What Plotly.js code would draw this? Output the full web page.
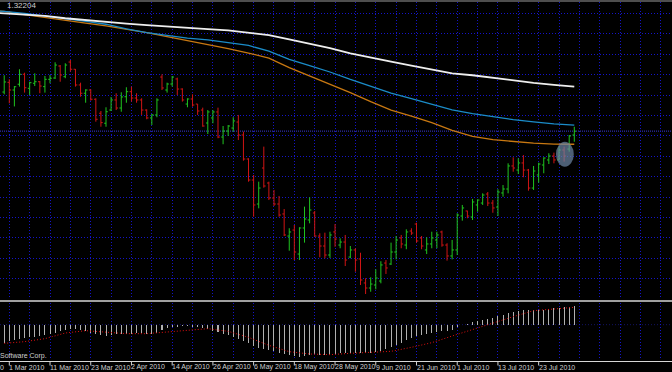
<!DOCTYPE html>
<html>
<head>
<meta charset="utf-8">
<script src="https://cdn.plot.ly/plotly-3.0.1.min.js"></script>
<style>html,body{margin:0;padding:0;background:#000;}#chart{width:672px;height:372px;}</style>
</head>
<body>
<div id="chart"></div>
<script>
// ---- price bars (EURUSD daily), first bar = 26 Feb 2010 (index -1) ----
const open = [1.3546,1.3627,1.3563,1.3611,1.3694,1.3577,1.3619,1.3632,1.3591,1.3652,1.3663,1.3763,1.3674,1.3796,1.3736,1.3605,1.3536,1.3563,1.3486,1.3369,1.3286,1.3396,1.3480,1.3413,1.3507,1.3549,1.3496,1.3480,1.3396,1.3330,1.3355,1.3671,1.3563,1.3613,1.3655,1.3571,1.3446,1.3488,1.3446,1.3396,1.3288,1.3330,1.3380,1.3171,1.3221,1.3246,1.3296,1.3188,1.2988,1.2813,1.2613,1.2913,1.2788,1.2663,1.2613,1.2530,1.2346,1.2396,1.2196,1.2413,1.2480,1.2538,1.2346,1.2263,1.2188,1.2380,1.2271,1.2296,1.2171,1.2230,1.2155,1.1955,1.1913,1.1938,1.1971,1.2121,1.2113,1.2213,1.2330,1.2271,1.2388,1.2446,1.2330,1.2230,1.2280,1.2313,1.2380,1.2271,1.2180,1.2230,1.2513,1.2555,1.2505,1.2605,1.2621,1.2696,1.2621,1.2588,1.2705,1.2738,1.2930,1.2896,1.2955,1.2896,1.2746,1.2855,1.2938,1.2980,1.3013,1.2980,1.3063,1.3071,1.3188];
const high = [1.3686,1.3652,1.3596,1.3736,1.3707,1.3632,1.3702,1.3638,1.3680,1.3688,1.3794,1.3771,1.3786,1.3813,1.3738,1.3624,1.3569,1.3569,1.3494,1.3388,1.3419,1.3505,1.3536,1.3544,1.3586,1.3591,1.3536,1.3494,1.3402,1.3363,1.3494,1.3694,1.3624,1.3680,1.3666,1.3577,1.3494,1.3527,1.3446,1.3416,1.3396,1.3396,1.3416,1.3263,1.3271,1.3336,1.3355,1.3216,1.2994,1.2855,1.2799,1.3091,1.2799,1.2730,1.2680,1.2571,1.2411,1.2438,1.2419,1.2591,1.2669,1.2555,1.2369,1.2374,1.2382,1.2446,1.2327,1.2355,1.2263,1.2244,1.2207,1.1994,1.2002,1.2069,1.2136,1.2146,1.2291,1.2346,1.2355,1.2402,1.2411,1.2457,1.2346,1.2336,1.2382,1.2382,1.2391,1.2286,1.2313,1.2536,1.2605,1.2557,1.2655,1.2652,1.2702,1.2713,1.2646,1.2736,1.2771,1.2952,1.3002,1.2994,1.3021,1.2905,1.2930,1.2957,1.3002,1.3036,1.3041,1.3091,1.3091,1.3188,1.3257];
const low = [1.3527,1.3452,1.3426,1.3591,1.3541,1.3521,1.3596,1.3536,1.3541,1.3619,1.3655,1.3632,1.3661,1.3716,1.3591,1.3507,1.3457,1.3474,1.3299,1.3257,1.3257,1.3388,1.3396,1.3382,1.3457,1.3466,1.3457,1.3355,1.3319,1.3271,1.3336,1.3563,1.3541,1.3591,1.3521,1.3466,1.3419,1.3424,1.3355,1.3257,1.3196,1.3286,1.3161,1.3111,1.3180,1.3216,1.3146,1.2974,1.2799,1.2507,1.2577,1.2749,1.2646,1.2596,1.2507,1.2346,1.2224,1.2146,1.2146,1.2291,1.2452,1.2341,1.2169,1.2161,1.2163,1.2257,1.2244,1.2096,1.2161,1.2049,1.1938,1.1863,1.1882,1.1902,1.1952,1.2030,1.2105,1.2152,1.2244,1.2236,1.2355,1.2291,1.2236,1.2196,1.2244,1.2244,1.2257,1.2141,1.2152,1.2188,1.2474,1.2494,1.2480,1.2549,1.2605,1.2596,1.2540,1.2513,1.2674,1.2702,1.2882,1.2863,1.2836,1.2724,1.2730,1.2791,1.2869,1.2946,1.2952,1.2980,1.2966,1.3049,1.3132];
const close = [1.3630,1.3563,1.3590,1.3694,1.3582,1.3624,1.3632,1.3596,1.3652,1.3661,1.3771,1.3688,1.3771,1.3736,1.3605,1.3536,1.3563,1.3486,1.3319,1.3291,1.3382,1.3480,1.3413,1.3505,1.3549,1.3496,1.3480,1.3396,1.3330,1.3355,1.3480,1.3580,1.3613,1.3671,1.3571,1.3480,1.3488,1.3438,1.3388,1.3263,1.3380,1.3380,1.3171,1.3221,1.3263,1.3305,1.3188,1.2988,1.2813,1.2605,1.2746,1.2763,1.2663,1.2613,1.2521,1.2355,1.2380,1.2213,1.2413,1.2488,1.2563,1.2346,1.2263,1.2188,1.2355,1.2321,1.2296,1.2146,1.2230,1.2146,1.1980,1.1913,1.1946,1.1996,1.2105,1.2080,1.2213,1.2313,1.2280,1.2380,1.2371,1.2305,1.2263,1.2280,1.2330,1.2355,1.2271,1.2180,1.2230,1.2521,1.2580,1.2513,1.2630,1.2646,1.2688,1.2621,1.2580,1.2713,1.2738,1.2930,1.2913,1.2955,1.2896,1.2746,1.2888,1.2946,1.2996,1.3013,1.2980,1.3063,1.3013,1.3180,1.3220];

// ---- moving averages, sampled at these bar indices ----
const maIdx = [-2,-1,3,7,11,15,19,23,27,31,35,39,43,47,51,55,59,63,67,71,75,79,83,87,91,95,99,103,107,111];
const maWhite = [1.4204,1.4201,1.4192,1.4181,1.4161,1.4144,1.4128,1.4116,1.4103,1.4090,1.4080,1.4070,1.4060,1.4042,1.4020,1.3984,1.3950,1.3911,1.3869,1.3832,1.3799,1.3766,1.3732,1.3702,1.3686,1.3663,1.3641,1.3623,1.3606,1.3591];
const maBlue  = [1.4221,1.4219,1.4202,1.4181,1.4161,1.4134,1.4111,1.4073,1.4042,1.4017,1.3996,1.3980,1.3959,1.3934,1.3886,1.3819,1.3766,1.3713,1.3651,1.3592,1.3536,1.3492,1.3447,1.3397,1.3367,1.3340,1.3316,1.3298,1.3281,1.3271];
const maOrange= [1.4221,1.4219,1.4192,1.4170,1.4142,1.4120,1.4097,1.4072,1.4041,1.4007,1.3976,1.3943,1.3908,1.3871,1.3829,1.3750,1.3681,1.3609,1.3541,1.3466,1.3396,1.3345,1.3291,1.3226,1.3176,1.3149,1.3134,1.3120,1.3112,1.3111];

// ---- MACD pane ----
const macdHist = [-0.0112,-0.0096,-0.0092,-0.0086,-0.0082,-0.0076,-0.0072,-0.0068,-0.0064,-0.0056,-0.0048,-0.0040,-0.0034,-0.0028,-0.0028,-0.0032,-0.0040,-0.0048,-0.0056,-0.0064,-0.0066,-0.0062,-0.0058,-0.0056,-0.0054,-0.0054,-0.0052,-0.0052,-0.0054,-0.0056,-0.0052,-0.0032,-0.0022,-0.0016,-0.0012,-0.0008,-0.0008,-0.0012,-0.0016,-0.0022,-0.0028,-0.0036,-0.0044,-0.0054,-0.0064,-0.0072,-0.0084,-0.0098,-0.0112,-0.0128,-0.0138,-0.0144,-0.0152,-0.0160,-0.0168,-0.0178,-0.0184,-0.0190,-0.0192,-0.0186,-0.0180,-0.0178,-0.0180,-0.0182,-0.0180,-0.0176,-0.0172,-0.0172,-0.0172,-0.0172,-0.0172,-0.0170,-0.0168,-0.0164,-0.0158,-0.0148,-0.0134,-0.0122,-0.0108,-0.0094,-0.0080,-0.0068,-0.0060,-0.0054,-0.0048,-0.0044,-0.0040,-0.0036,-0.0030,-0.0016,-0.0004,0.0006,0.0014,0.0020,0.0028,0.0034,0.0040,0.0052,0.0058,0.0068,0.0076,0.0084,0.0088,0.0088,0.0086,0.0086,0.0088,0.0094,0.0098,0.0100,0.0104,0.0108,0.0114];
const sigIdx = [-1,3,7,11,15,19,23,27,31,35,39,43,47,51,55,59,63,67,71,75,79,83,87,91,95,99,103,107,111];
const macdSignal = [-0.0112,-0.0102,-0.0084,-0.0050,-0.0036,-0.0044,-0.0054,-0.0054,-0.0044,-0.0030,-0.0024,-0.0040,-0.0076,-0.0124,-0.0162,-0.0176,-0.0180,-0.0172,-0.0168,-0.0160,-0.0136,-0.0108,-0.0068,-0.0028,0.0008,0.0048,0.0084,0.0094,0.0104];

// ---- time axis labels ----
const labelIdx = [0,8,16,24,32,40,48,56,64,72,80,88,96,104];
const labelText = ['1 Mar 2010','11 Mar 2010','23 Mar 2010','2 Apr 2010','14 Apr 2010','26 Apr 2010','6 May 2010','18 May 2010','28 May 2010','9 Jun 2010','21 Jun 2010','1 Jul 2010','13 Jul 2010','23 Jul 2010'];
const bidPrice = 1.32204;

const barIdx = open.map((_, k) => k - 1);

const W = 672, H = 372;
const py = p => 1 - p / H;   // pixel row -> paper y
const GRID = '#1414c8';
const GDASH = '1px,2px';
const TXT = '#cfcfcf';
const FONT = 'Liberation Sans, Arial, sans-serif';

const traces = [
  {type:'scatter', mode:'lines', x:maIdx, y:maOrange, xaxis:'x', yaxis:'y',
   line:{color:'#c87812', width:1.3}, hoverinfo:'skip'},
  {type:'scatter', mode:'lines', x:maIdx, y:maBlue, xaxis:'x', yaxis:'y',
   line:{color:'#1b8cc8', width:1.3}, hoverinfo:'skip'},
  {type:'scatter', mode:'lines', x:maIdx, y:maWhite, xaxis:'x', yaxis:'y',
   line:{color:'#eeeeee', width:1.8}, hoverinfo:'skip'},
  {type:'ohlc', x:barIdx, open:open, high:high, low:low, close:close, xaxis:'x', yaxis:'y',
   increasing:{line:{color:'#1fc41f', width:1}}, decreasing:{line:{color:'#d01414', width:1}},
   tickwidth:0.36, hoverinfo:'skip'},
  {type:'bar', x:barIdx, y:macdHist, xaxis:'x2', yaxis:'y2', width:0.2,
   marker:{color:'#b0b0b0', line:{width:0}}, hoverinfo:'skip'},
  {type:'scatter', mode:'lines', x:sigIdx, y:macdSignal, xaxis:'x2', yaxis:'y2',
   line:{color:'#e01010', width:1, dash:'1px,2px'}, hoverinfo:'skip'}
];

const xr = [-9.3/5.09, -9.3/5.09 + W/5.09];
const commonX = {range:xr, showgrid:true, gridcolor:GRID, griddash:GDASH, gridwidth:1,
  tick0:0, dtick:4, ticks:'', showticklabels:false, zeroline:false, showline:false, fixedrange:true};

const shapes = [
  {type:'line', xref:'paper', yref:'paper', x0:0, x1:1, y0:py(1), y1:py(1), line:{color:'#9c9c9c', width:1}},
  {type:'line', xref:'paper', yref:'paper', x0:0, x1:1, y0:py(301), y1:py(301), line:{color:'#a0a0a0', width:2}},
  {type:'line', xref:'paper', yref:'paper', x0:0, x1:1, y0:py(361.5), y1:py(361.5), line:{color:'#d6d6d6', width:1}},
  {type:'line', xref:'paper', yref:'y', x0:0, x1:1, y0:bidPrice, y1:bidPrice, line:{color:'#3a3ad6', width:1, dash:'1px,1px'}, layer:'below'},
  {type:'line', xref:'paper', yref:'y2', x0:0, x1:1, y0:0, y1:0, line:{color:'#121260', width:1, dash:'1px,2px'}, layer:'below'},
  {type:'circle', xref:'x', yref:'y', x0:107.4, x1:110.9, y0:1.2924, y1:1.3132,
   fillcolor:'rgba(110,135,165,0.7)', line:{width:0}, layer:'above'}
];
labelIdx.forEach(i => shapes.push({type:'line', xref:'x2', yref:'paper', x0:i, x1:i,
  y0:py(362), y1:py(365.5), line:{color:'#d0d0d0', width:1}}));

const annotations = labelIdx.map((i, k) => ({
  xref:'x2', yref:'paper', x:i, y:py(367), xanchor:'left', yanchor:'middle',
  text:labelText[k], showarrow:false, font:{family:FONT, size:7, color:TXT}, borderpad:0, borderwidth:0
}));
annotations.push({xref:'paper', yref:'paper', x:0, y:py(367), xanchor:'left', yanchor:'middle',
  text:'0', showarrow:false, font:{family:FONT, size:7, color:TXT}, borderpad:0, borderwidth:0});
annotations.push({xref:'paper', yref:'paper', x:0, y:py(355.5), xanchor:'left', yanchor:'middle',
  text:'Software Corp.', showarrow:false, font:{family:FONT, size:7, color:TXT}, borderpad:0, borderwidth:0});
annotations.push({xref:'paper', yref:'paper', x:7/W, y:py(6), xanchor:'left', yanchor:'middle',
  text:'1.32204', showarrow:false, font:{family:FONT, size:8, color:TXT}, borderpad:0, borderwidth:0});

const layout = {
  width:W, height:H, margin:{l:0, r:0, t:0, b:0},
  paper_bgcolor:'#000000', plot_bgcolor:'#000000',
  showlegend:false, bargap:0,
  xaxis: Object.assign({}, commonX, {anchor:'y', domain:[0,1], rangeslider:{visible:false}}),
  xaxis2: Object.assign({}, commonX, {anchor:'y2', domain:[0,1]}),
  yaxis: {domain:[py(299), py(2)], range:[1.4313 - 299/1200, 1.4313 - 2/1200],
    showgrid:true, gridcolor:GRID, griddash:GDASH, gridwidth:1, tick0:1.3180, dtick:0.017,
    showticklabels:false, ticks:'', zeroline:false, showline:false, fixedrange:true},
  yaxis2: {domain:[py(360), py(303)], range:[-0.0212, 0.0130], showgrid:false,
    showticklabels:false, ticks:'', zeroline:false, showline:false, fixedrange:true},
  shapes: shapes,
  annotations: annotations
};

Plotly.newPlot('chart', traces, layout, {staticPlot:true, displayModeBar:false});
</script>
</body>
</html>
